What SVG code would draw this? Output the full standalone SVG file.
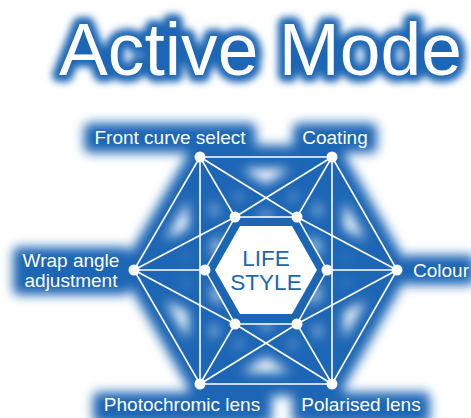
<svg xmlns="http://www.w3.org/2000/svg" width="471" height="418" viewBox="0 0 471 418">
<defs>
<style>
.lbl{font-family:"Liberation Sans",Arial,sans-serif;font-size:19px;fill:#ffffff}
.c{stroke:#ffffff;stroke-width:1.6;fill:none}
.g{stroke:#1a66b5;stroke-width:24;stroke-linecap:round;fill:none}
.gr{fill:#1a66b5}
.nd{fill:#ffffff}
.ctr{font-family:"Liberation Sans",Arial,sans-serif;font-size:22.5px;fill:#1a66b5;text-anchor:middle}
</style>
<filter id="blur" x="-20%" y="-20%" width="140%" height="140%"><feGaussianBlur stdDeviation="5.5"/></filter>
<filter id="tblur" x="-10%" y="-30%" width="120%" height="160%"><feGaussianBlur stdDeviation="3.5"/></filter>
</defs>
<rect width="471" height="418" fill="#ffffff"/>
<g id="title">
<text x="59" y="75" font-family="Liberation Sans,Arial,sans-serif" font-size="74" textLength="403" lengthAdjust="spacingAndGlyphs" fill="#1a66b5" stroke="#1a66b5" stroke-width="14" stroke-linejoin="round" filter="url(#tblur)">Active Mode</text>
<text x="59" y="75" font-family="Liberation Sans,Arial,sans-serif" font-size="74" textLength="403" lengthAdjust="spacingAndGlyphs" fill="#ffffff">Active Mode</text>
</g>
<g id="glow" filter="url(#blur)">
<g class="g">
<path d="M200 157H332M200 157L235 217M200 157L297 217M200 157V384M200 157L134 270"/>
<path d="M332 157L297 217M332 157L235 217M332 157V384M332 157L397 270"/>
<path d="M134 270L235 217M134 270H205M134 270L235 324M134 270L200 384"/>
<path d="M397 270L297 217M397 270H327M397 270L297 324M397 270L332 384"/>
<path d="M200 384H332M200 384L235 324M200 384L297 324M332 384L297 324M332 384L235 324"/>
</g>
<polygon class="gr" points="205,270 235,217 297,217 327,270 297,324 235,324"/>
<rect class="gr" x="84" y="123" width="172" height="30" rx="6"/>
<rect class="gr" x="293" y="123" width="84" height="30" rx="6"/>
<rect class="gr" x="13" y="247" width="117" height="48" rx="6"/>
<rect class="gr" x="403" y="255" width="72" height="30" rx="6"/>
<rect class="gr" x="93" y="392" width="179" height="32" rx="6"/>
<rect class="gr" x="292" y="392" width="138" height="32" rx="6"/>
</g>
<g id="connectors" class="c">
<path d="M200 157H332M200 157L235 217M200 157L297 217M200 157V384M200 157L134 270"/>
<path d="M332 157L297 217M332 157L235 217M332 157V384M332 157L397 270"/>
<path d="M134 270L235 217M134 270H205M134 270L235 324M134 270L200 384"/>
<path d="M397 270L297 217M397 270H327M397 270L297 324M397 270L332 384"/>
<path d="M200 384H332M200 384L235 324M200 384L297 324M332 384L297 324M332 384L235 324"/>
<path d="M235 217H297L327 270L297 324H235L205 270Z"/>
</g>
<g id="center">
<polygon fill="#1a66b5" points="206,270 236,218 296,218 326,270 296,323 236,323"/>
<polygon fill="#ffffff" points="215,270 240,226 292,226 317,270 292,314 240,314"/>
<text class="ctr" x="266" y="266">LIFE</text>
<text class="ctr" x="266" y="290">STYLE</text>
</g>
<g id="inner-nodes">
<circle class="nd" cx="235" cy="217" r="5.5"/>
<circle class="nd" cx="297" cy="217" r="5.5"/>
<circle class="nd" cx="205" cy="270" r="5.5"/>
<circle class="nd" cx="327" cy="270" r="5.5"/>
<circle class="nd" cx="235" cy="324" r="5.5"/>
<circle class="nd" cx="297" cy="324" r="5.5"/>
</g>
<g id="front-curve">
<circle class="nd" cx="200" cy="157" r="5.5"/>
<text class="lbl" x="170" y="144" text-anchor="middle">Front curve select</text>
</g>
<g id="coating">
<circle class="nd" cx="332" cy="157" r="5.5"/>
<text class="lbl" x="335" y="144" text-anchor="middle">Coating</text>
</g>
<g id="wrap-angle">
<circle class="nd" cx="134" cy="270" r="5.5"/>
<text class="lbl" x="71" y="267" text-anchor="middle">Wrap angle</text>
<text class="lbl" x="71" y="287" text-anchor="middle">adjustment</text>
</g>
<g id="colour">
<circle class="nd" cx="397" cy="270" r="5.5"/>
<text class="lbl" x="413" y="277">Colour</text>
</g>
<g id="photochromic">
<circle class="nd" cx="200" cy="384" r="5.5"/>
<text class="lbl" x="182" y="411" text-anchor="middle">Photochromic lens</text>
</g>
<g id="polarised">
<circle class="nd" cx="332" cy="384" r="5.5"/>
<text class="lbl" x="361" y="411" text-anchor="middle">Polarised lens</text>
</g>
</svg>
